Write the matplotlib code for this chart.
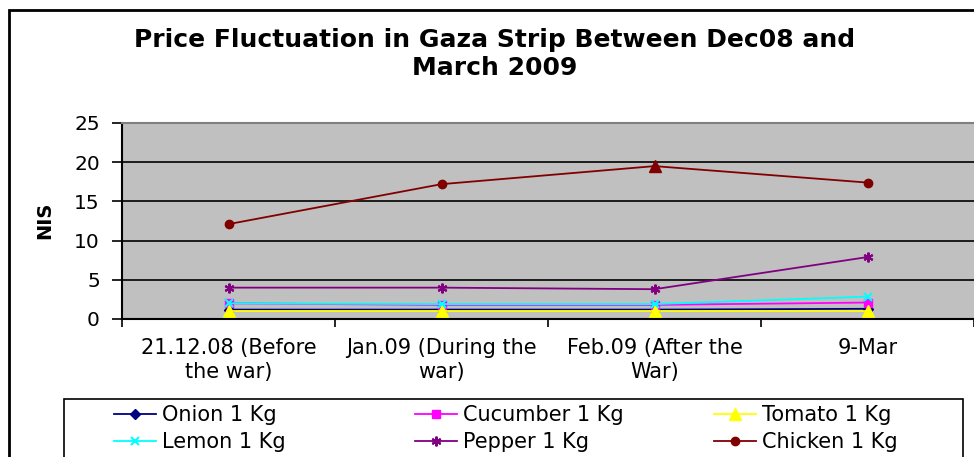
import matplotlib.pyplot as plt
from matplotlib.patches import Rectangle

plt.rcParams['font.family'] = ['DejaVu Sans']

# dane
dates = ['21.12.08 (Before\nthe war)', 'Jan.09 (During the\nwar)',
         'Feb.09 (After the\nWar)', '9-Mar']
onion = [1.2, 1.2, 1.2, 1.3]
cucumber = [2.0, 1.8, 1.8, 2.1]
tomato = [1.0, 1.0, 1.0, 1.0]
lemon = [2.0, 1.9, 1.9, 2.85]
pepper = [4.0, 4.0, 3.8, 7.9]
chicken = [12.1, 17.2, 19.5, 17.4]

fig = plt.figure(figsize=(9.74, 4.57), dpi=100)
ax = fig.add_axes([122 / 974, 1 - 319 / 457, 1 - 122 / 974, (319 - 123) / 457])
ax.set_facecolor('#C0C0C0')

x = range(len(dates))
h_onion, = ax.plot(x, onion, color='#000080', marker='D', ms=5, lw=1.3, label='Onion 1 Kg')
h_cuc, = ax.plot(x, cucumber, color='#FF00FF', marker='s', ms=6, lw=1.3, label='Cucumber 1 Kg')
h_tom, = ax.plot(x, tomato, color='#FFFF00', marker='^', ms=8, lw=1.3, label='Tomato 1 Kg')
h_lem, = ax.plot(x, lemon, color='#00FFFF', marker='x', ms=6, mew=1.5, lw=1.3, label='Lemon 1 Kg')
h_pep, = ax.plot(x, pepper, color='#800080', marker=(6, 2, 0), ms=7, mew=1.5, lw=1.3, label='Pepper 1 Kg')
h_chk, = ax.plot(x, chicken, color='#800000', marker='o', ms=6, lw=1.3,
                 markevery=[0, 1, 3], label='Chicken 1 Kg')
# w Excelu punkt z lutego ma trojkat
ax.plot(x, chicken, color='#800000', marker='^', ms=8, lw=0, markevery=[2])

ax.set_ylim(0, 25)
ax.set_yticks([0, 5, 10, 15, 20, 25])
ax.set_xlim(-0.5, 3.5)
ax.set_xticks(list(x))
ax.set_xticklabels(dates, fontsize=15, linespacing=1.25)
ax.set_xticks([-0.5, 0.5, 1.5, 2.5, 3.5], minor=True)
ax.tick_params(axis='x', which='major', length=0, pad=14)
ax.tick_params(axis='x', which='minor', length=6, width=1.2, direction='out')
ax.tick_params(axis='y', labelsize=14.5, length=7, width=1.2, direction='out', pad=9)
ax.grid(axis='y', color='black', lw=1.2)
ax.set_axisbelow(True)
ax.spines['left'].set_linewidth(1.5)
ax.spines['bottom'].set_linewidth(1.5)
ax.spines['top'].set_color('#808080')
ax.spines['top'].set_linewidth(1.5)
ax.spines['right'].set_visible(False)
ax.text(45 / 974, 1 - 220 / 457, 'NIS', transform=fig.transFigure, rotation=90,
        ha='center', va='center', fontsize=14, fontweight='bold')

fig.text(0.508, 1 - 54 / 457, 'Price Fluctuation in Gaza Strip Between Dec08 and\nMarch 2009',
         ha='center', va='center', fontsize=18, fontweight='bold', linespacing=1.2)

# ramka wykresu
fig.patches.append(Rectangle((9 / 974, -0.2), 1.2, 1.2 - 10 / 457, transform=fig.transFigure,
                             fill=False, ec='black', lw=2))
# ramka legendy
fig.patches.append(Rectangle((64 / 974, -0.1), 899 / 974, 0.1 + 1 - 399 / 457,
                             transform=fig.transFigure, fill=False, ec='black', lw=1.2))

# legenda: trzy kolumny o rownej szerokosci jak w Excelu
columns = [[h_onion, h_lem], [h_cuc, h_pep], [h_tom, h_chk]]
col_x = [114, 415, 714]
for hs, cx in zip(columns, col_x):
    fig.legend(handles=hs, labels=[h.get_label() for h in hs], loc='upper left',
               bbox_to_anchor=(cx / 974, 1 - 405 / 457), frameon=False, fontsize=15,
               handlelength=2.0, handletextpad=0.3, labelspacing=0.33,
               borderpad=0, borderaxespad=0)

fig.savefig('out.png', dpi=100)
